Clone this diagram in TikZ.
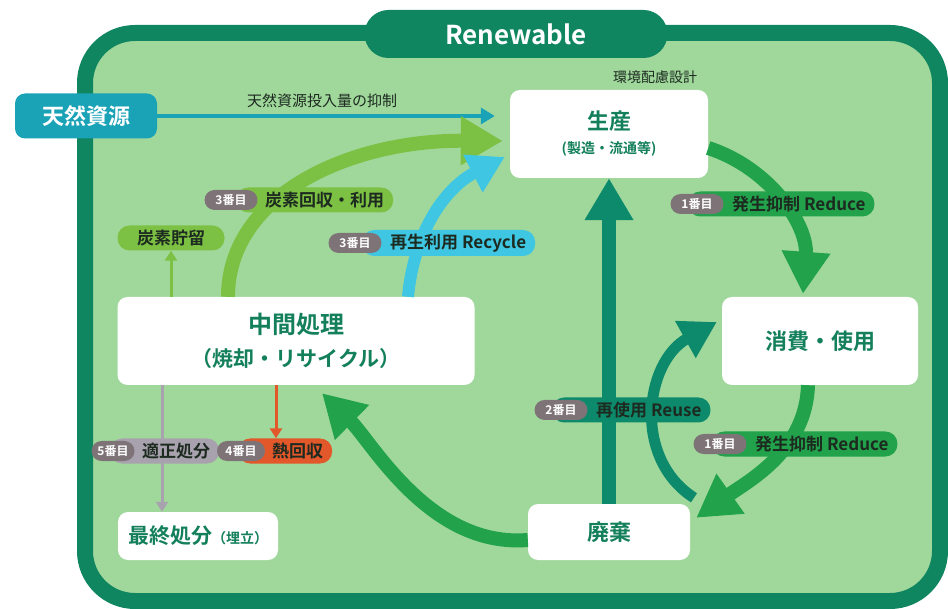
\documentclass[tikz,border=0pt]{standalone}
\usepackage{fontspec}
\setmainfont{Noto Sans CJK JP}[BoldFont={Noto Sans CJK JP Bold}]
\usepackage{xcolor}
\usepackage{tikz}
\usetikzlibrary{arrows.meta}
\definecolor{framecolor}{HTML}{0F8660}
\definecolor{bgcolor}{HTML}{A0D89C}
\definecolor{loopcolor}{HTML}{22A24B}
\definecolor{carboncolor}{HTML}{7CC143}
\definecolor{recyclecolor}{HTML}{3EC6E2}
\definecolor{sourcecolor}{HTML}{1AA2B6}
\definecolor{reusecolor}{HTML}{0D8A6B}
\definecolor{heatcolor}{HTML}{E2582A}
\definecolor{disposecolor}{HTML}{A8A2AE}
\definecolor{numcolor}{HTML}{7E7477}
\definecolor{boxtext}{HTML}{13805B}
\definecolor{labeltext}{HTML}{1D2A20}

\tikzset{
  stagebox/.style={draw=none, fill=white, rounded corners=10pt, text=boxtext, align=center, font=\bfseries\fontsize{22}{27}\selectfont},
  pill/.style={anchor=west, rounded corners=12pt, minimum height=25pt, inner xsep=9pt, inner ysep=0pt, text=labeltext, font=\bfseries\fontsize{17}{20}\selectfont},
  numpill/.style={fill=numcolor, rounded corners=10pt, minimum height=20pt, minimum width=53pt, inner sep=0pt, text=white, font=\bfseries\fontsize{12}{14}\selectfont},
  bigarrow/.style={line width=14pt, -{Triangle[length=42pt, width=46pt]}},
  thinarrow/.style={line width=3pt, -{Triangle[length=10pt, width=12pt]}},
}

\begin{document}
\begin{tikzpicture}[x=1pt, y=-1pt]%
\useasboundingbox (0,0) rectangle (948,609);%
% frame
\draw[framecolor, fill=bgcolor, line width=16pt, rounded corners=50pt] (85,33) rectangle (940,601);%
\node[fill=framecolor, rounded corners=24pt, minimum width=303pt, minimum height=48pt, text=white, font=\bfseries\fontsize{26}{30}\selectfont] (title) at (516,34) {Renewable};%
% stages
\node[stagebox, fill=sourcecolor, text=white, minimum width=142pt, minimum height=45pt] (shigen) at (86,116) {天然資源};%
\node[stagebox, minimum width=198pt, minimum height=88pt] (seisan) at (609,134) {生産\\[-3pt]{\fontsize{14}{17}\selectfont (製造・流通等)}};%
\node[stagebox, minimum width=196pt, minimum height=88pt] (shohi) at (820,341) {消費・使用};%
\node[stagebox, minimum width=162pt, minimum height=56pt] (haiki) at (609,532) {廃棄};%
\node[stagebox, minimum width=357pt, minimum height=88pt, font=\bfseries\fontsize{24}{33}\selectfont] (chukan) at (296,341) {中間処理\\{\fontsize{21}{25}\selectfont （焼却・リサイクル）}};%
\node[stagebox, minimum width=160pt, minimum height=48pt, font=\bfseries\fontsize{21}{25}\selectfont] (saishu) at (198,536) {最終処分{\fontsize{14}{17}\selectfont （埋立）}};%
\node[fill=carboncolor, rounded corners=12pt, minimum width=107pt, minimum height=25pt, inner sep=0pt, text=labeltext, font=\bfseries\fontsize{17}{20}\selectfont] (tanso) at (171,238) {炭素貯留};%
\node[text=labeltext, font=\fontsize{15}{18}\selectfont] (yokusei) at (322,101) {天然資源投入量の抑制};%
\node[text=labeltext, font=\fontsize{14}{17}\selectfont] (kankyo) at (655,77) {環境配慮設計};%
% flows
\draw[sourcecolor, line width=4pt, -{Triangle[length=14pt, width=16pt]}, shorten >=15pt] (shigen.east) -- (shigen.east -| seisan.west);%
\draw[reusecolor, bigarrow] (haiki.north) -- (seisan.south);%
\draw[loopcolor, bigarrow] ([yshift=-14pt]seisan.east) .. controls (770,168) and (808,225) .. ([xshift=-17pt,yshift=3pt]shohi.north);%
\draw[loopcolor, bigarrow] ([xshift=-12pt]shohi.south) .. controls (806,450) and (750,480) .. ([xshift=6pt,yshift=-14pt]haiki.north east);%
\draw[loopcolor, bigarrow] ([yshift=-8pt]haiki.west) .. controls (430,548) and (372,442) .. ([xshift=26pt,yshift=-8pt]chukan.south);%
\draw[carboncolor, bigarrow] ([xshift=-68pt]chukan.north) .. controls (228,195) and (350,140) .. ([xshift=-7pt,yshift=-7pt]seisan.west);%
\draw[recyclecolor, line width=12pt, -{Triangle[length=36pt, width=40pt]}] ([xshift=112pt]chukan.north) .. controls (414,232) and (445,188) .. ([xshift=-5pt,yshift=-23pt]seisan.west);%
\draw[reusecolor, line width=11pt, -{Triangle[length=36pt, width=40pt]}] ([xshift=85pt,yshift=6pt]haiki.north) .. controls (632,458) and (645,362) .. ([xshift=-5pt,yshift=19pt]shohi.west);%
\coordinate (tx) at (171,0);%
\coordinate (gx) at (162,0);%
\coordinate (hx) at (276,0);%
\draw[carboncolor, thinarrow] (chukan.north -| tx) -- (tanso.south -| tx);%
\draw[disposecolor, thinarrow] (chukan.south -| gx) -- (saishu.north -| gx);%
% priority labels
\node[pill, fill=carboncolor] (lblCarbon) at (236,200) {\hspace*{20pt}炭素回収・利用};%
\node[numpill] (numCarbon) at (231,200) {3番目};%
\node[pill, fill=recyclecolor, minimum height=26pt] (lblRecycle) at (362,243) {\hspace*{19pt}再生利用 Recycle};%
\node[numpill] (numRecycle) at (355,243) {3番目};%
\node[pill, fill=loopcolor] (lblReduceA) at (688,204) {\hspace*{35pt}発生抑制 Reduce};%
\node[numpill] (numReduceA) at (697,204) {1番目};%
\node[pill, fill=reusecolor] (lblReuse) at (552,410) {\hspace*{35pt}再使用 Reuse};%
\node[numpill] (numReuse) at (561,410) {2番目};%
\node[pill, fill=loopcolor] (lblReduceB) at (712,444) {\hspace*{34pt}発生抑制 Reduce};%
\node[numpill] (numReduceB) at (720,444) {1番目};%
\node[pill, fill=disposecolor] (lblDispose) at (110,451) {\hspace*{23pt}適正処分};%
\node[numpill, minimum width=43pt] (numDispose) at (113,451) {5番目};%
\node[pill, fill=heatcolor] (lblHeat) at (238,451) {\hspace*{25pt}熱回収};%
\node[numpill, minimum width=48pt] (numHeat) at (241,451) {4番目};%
\draw[heatcolor, thinarrow] (chukan.south -| hx) -- (lblHeat.north -| hx);%
\end{tikzpicture}
\end{document}
